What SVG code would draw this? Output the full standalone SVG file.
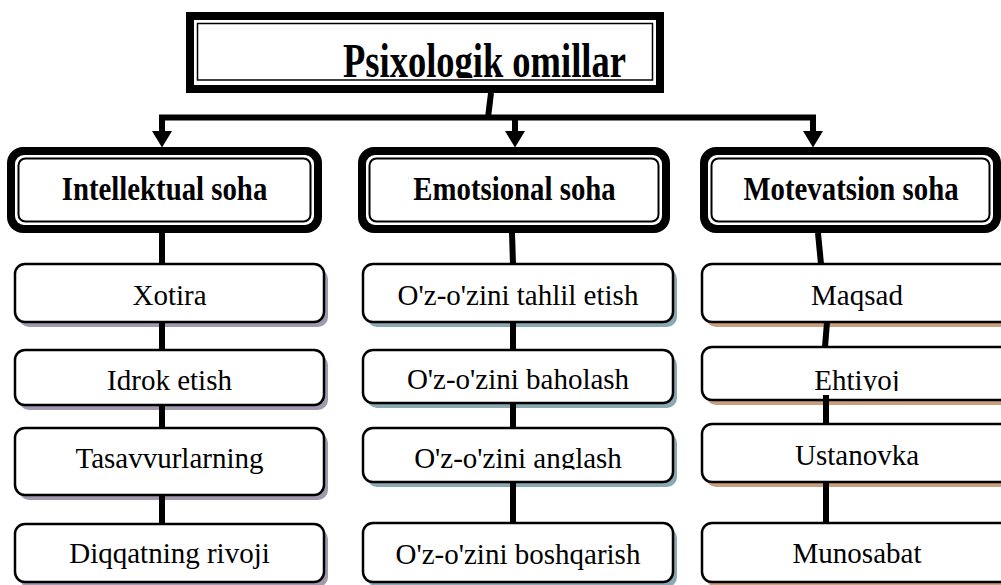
<svg xmlns="http://www.w3.org/2000/svg" width="1001" height="585" viewBox="0 0 1001 585">
<style>
.bg{fill:#ffffff}
.blk{fill:#000000}
.wht{fill:#ffffff}
.thin{fill:none;stroke:#000000;stroke-width:2}
.sub{fill:#ffffff;stroke:#000000;stroke-width:2.5}
.sh1{fill:#a199ad}
.sh2{fill:#8aa9b4}
.sh3{fill:#cb9e7f}
.title{font-family:"Liberation Serif","Times New Roman",serif;font-weight:bold;font-size:36.5px;fill:#000}
.cat{font-family:"Liberation Serif","Times New Roman",serif;font-weight:bold;font-size:28.8px;fill:#000;text-anchor:middle}
.lbl{font-family:"Liberation Serif","Times New Roman",serif;font-size:29px;fill:#000;text-anchor:middle}
.ln{fill:none;stroke:#000;stroke-width:6}
.bus{fill:none;stroke:#000;stroke-width:6;stroke-linecap:square}
</style>
<defs>
<marker id="arr" markerUnits="userSpaceOnUse" markerWidth="17" markerHeight="21" refX="0" refY="10.5" orient="auto">
<path d="M0,0.5 L16.5,10.5 L0,20.5 z" fill="#000"/>
</marker>
<clipPath id="clipTitle"><rect x="190" y="20" width="470" height="58"/></clipPath>
<clipPath id="clipAng"><rect x="365" y="430" width="306" height="39.5"/></clipPath>
<clipPath id="clipEht"><rect x="704" y="349" width="300" height="42"/></clipPath>
</defs>
<rect class="bg" x="0" y="0" width="1001" height="585"/>

<g id="title">
<rect class="blk" x="186" y="12" width="478" height="81"/>
<rect class="wht" x="194" y="20" width="462" height="65"/>
<rect class="thin" x="197.5" y="23.5" width="455" height="56.5" style="stroke-width:1.5"/>
<g clip-path="url(#clipTitle)">
<text class="title" transform="translate(343,77) scale(1,1.35)" x="0" y="0">Psixologik omillar</text>
</g>
</g>

<g id="cat-intellektual">
<rect class="blk" x="7" y="147" width="315" height="86" rx="16"/>
<rect class="wht" x="15" y="155" width="299" height="70" rx="9"/>
<rect class="thin" x="18.5" y="158.5" width="292" height="63" rx="7"/>
<text class="cat" transform="translate(164.5,200) scale(1,1.2)">Intellektual soha</text>
</g>

<g id="cat-emotsional">
<rect class="blk" x="358" y="147" width="312" height="86" rx="16"/>
<rect class="wht" x="366" y="155" width="296" height="70" rx="9"/>
<rect class="thin" x="369.5" y="158.5" width="289" height="63" rx="7"/>
<text class="cat" transform="translate(514.5,200) scale(1,1.2)">Emotsional soha</text>
</g>

<g id="cat-motevatsion">
<rect class="blk" x="700" y="147" width="301" height="86" rx="16"/>
<rect class="wht" x="708" y="155" width="285" height="70" rx="9"/>
<rect class="thin" x="711.5" y="158.5" width="278" height="63" rx="7"/>
<text class="cat" transform="translate(851,200) scale(1,1.2)">Motevatsion soha</text>
</g>

<g id="xotira">
<rect class="sh1" x="19" y="269" width="309" height="58" rx="10"/>
<rect class="sub" x="15" y="264" width="309" height="58" rx="10"/>
<text class="lbl" x="169.5" y="305">Xotira</text>
</g>
<g id="idrok">
<rect class="sh1" x="19" y="355" width="309" height="55" rx="10"/>
<rect class="sub" x="15" y="350" width="309" height="55" rx="10"/>
<text class="lbl" x="169.5" y="390">Idrok etish</text>
</g>
<g id="tasavvur">
<rect class="sh1" x="19" y="433" width="309" height="67" rx="10"/>
<rect class="sub" x="15" y="428" width="309" height="67" rx="10"/>
<text class="lbl" x="169.5" y="468">Tasavvurlarning</text>
</g>
<g id="diqqat">
<rect class="sh1" x="19" y="529" width="309" height="58" rx="10"/>
<rect class="sub" x="15" y="524" width="309" height="58" rx="10"/>
<text class="lbl" x="169.5" y="563">Diqqatning rivoji</text>
</g>

<g id="tahlil">
<rect class="sh2" x="367" y="269" width="310" height="58" rx="10"/>
<rect class="sub" x="363" y="264" width="310" height="58" rx="10"/>
<text class="lbl" x="518" y="305">O'z-o'zini tahlil etish</text>
</g>
<g id="baholash">
<rect class="sh2" x="367" y="355" width="310" height="53" rx="10"/>
<rect class="sub" x="363" y="350" width="310" height="53" rx="10"/>
<text class="lbl" x="518" y="389">O'z-o'zini baholash</text>
</g>
<g id="anglash">
<rect class="sh2" x="367" y="433" width="310" height="54" rx="10"/>
<rect class="sub" x="363" y="428" width="310" height="54" rx="10"/>
<g clip-path="url(#clipAng)"><text class="lbl" x="518" y="468">O'z-o'zini anglash</text></g>
</g>
<g id="boshqarish">
<rect class="sh2" x="367" y="528" width="310" height="59" rx="10"/>
<rect class="sub" x="363" y="523" width="310" height="59" rx="10"/>
<text class="lbl" x="518" y="564">O'z-o'zini boshqarish</text>
</g>

<g id="maqsad">
<rect class="sh3" x="706" y="269" width="310" height="58" rx="10"/>
<rect class="sub" x="702" y="264" width="310" height="58" rx="10"/>
<text class="lbl" x="857" y="305">Maqsad</text>
</g>
<g id="ehtiyoj">
<rect class="sh3" x="706" y="352" width="310" height="53" rx="10"/>
<rect class="sub" x="702" y="347" width="310" height="53" rx="10"/>
<g clip-path="url(#clipEht)"><text class="lbl" x="857" y="390">Ehtiyoj</text></g>
</g>
<g id="ustanovka">
<rect class="sh3" x="706" y="429" width="310" height="58" rx="10"/>
<rect class="sub" x="702" y="424" width="310" height="58" rx="10"/>
<text class="lbl" x="857" y="465">Ustanovka</text>
</g>
<g id="munosabat">
<rect class="sh3" x="706" y="528" width="310" height="59" rx="10"/>
<rect class="sub" x="702" y="523" width="310" height="59" rx="10"/>
<text class="lbl" x="857" y="563">Munosabat</text>
</g>

<g id="connectors">
<path class="ln" d="M491,93 L488,117.5"/>
<path class="bus" d="M162,117.5 H813"/>
<path class="ln" d="M162,117.5 V131" marker-end="url(#arr)"/>
<path class="ln" d="M515,117.5 V131" marker-end="url(#arr)"/>
<path class="ln" d="M813,117.5 V131" marker-end="url(#arr)"/>

<path class="ln" d="M162,233 V264"/>
<path class="ln" d="M162,322 V350"/>
<path class="ln" d="M162,405 V428"/>
<path class="ln" d="M162,495 V524"/>

<path class="ln" d="M512,233 L513,264"/>
<path class="ln" d="M513,322 V350"/>
<path class="ln" d="M513,403 V428"/>
<path class="ln" d="M513,482 V523"/>

<path class="ln" d="M818,233 L821,264"/>
<path class="ln" d="M827,322 L825,347"/>
<path class="ln" d="M826,395 V424"/>
<path class="ln" d="M826,482 V523"/>
</g>
</svg>
